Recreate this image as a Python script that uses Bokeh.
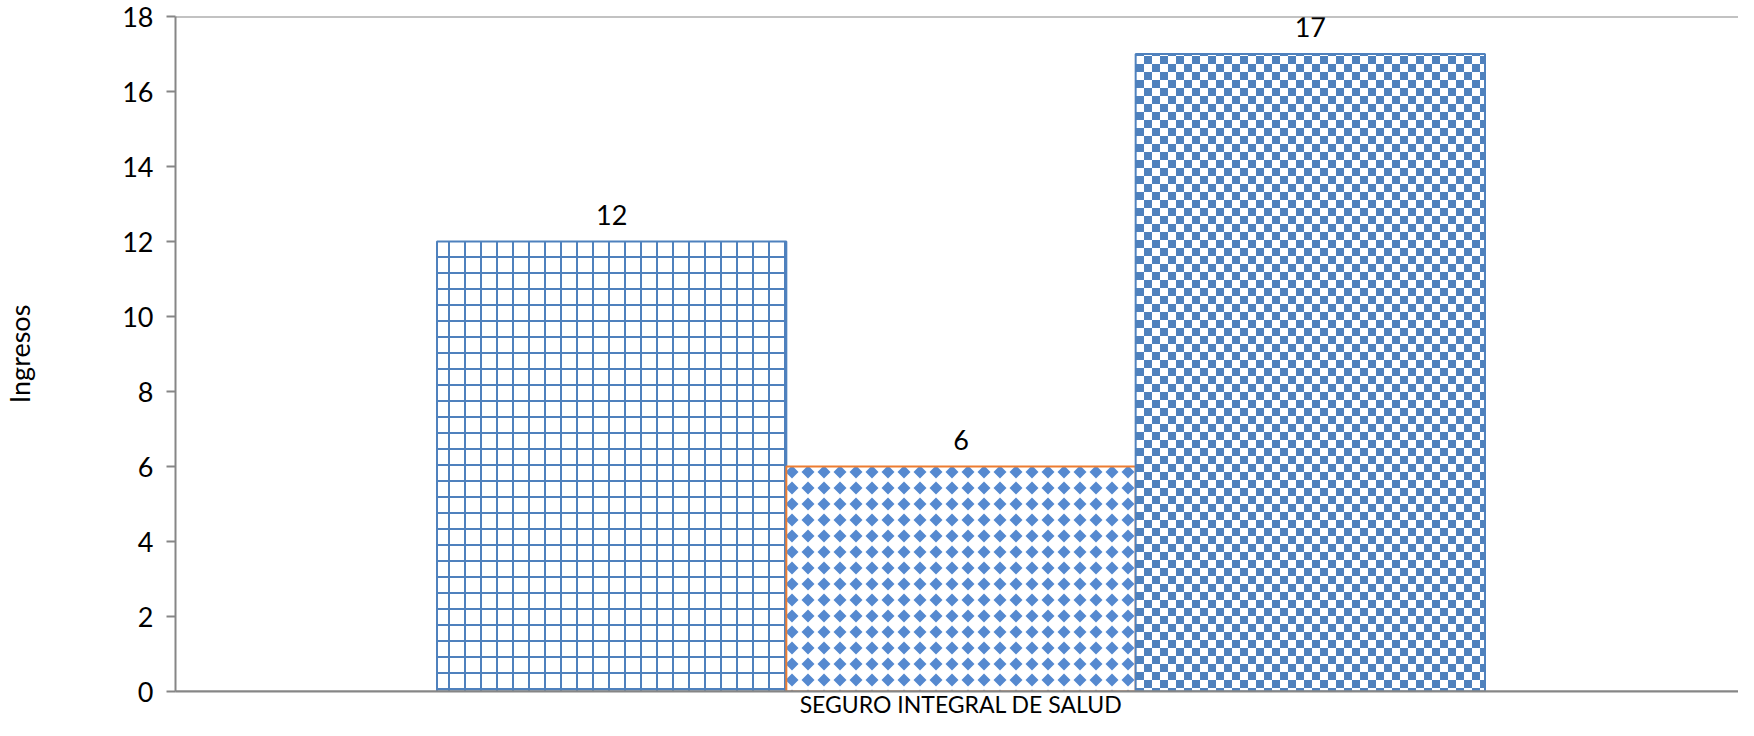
from bokeh.plotting import figure
from bokeh.models import (ColumnDataSource, Range1d, FixedTicker, Span, LabelSet,
                          CanvasTexture, LinearAxis)
from bokeh.core.properties import value
from bokeh.embed import file_html
from bokeh.resources import INLINE

# ---- data ----
categories = ["SEGURO INTEGRAL DE SALUD"]
serie_1 = [12]
serie_2 = [6]
serie_3 = [17]
y_ticks = [0, 2, 4, 6, 8, 10, 12, 14, 16, 18]
y_axis_title = "Ingresos"

# ---- styles ----
BLUE = "#4F81BD"
ORANGE = "#ED7D31"
AXIS = "#868686"
FONT = "Lato"
FS = "27px"

# textures (canvas reset to a 16x16 tile, which also clears any transform)
grid_tex = """
const c = ctx.canvas; c.width = 16; c.height = 16;
ctx.fillStyle = '#4F81BD';
ctx.fillRect(0, 0, 16, 2);
ctx.fillRect(0, 0, 2, 16);
"""
diamond_tex = """
const c = ctx.canvas; c.width = 16; c.height = 16;
ctx.fillStyle = '#5589D0';
ctx.beginPath();
ctx.moveTo(8, 1.5); ctx.lineTo(14.5, 8); ctx.lineTo(8, 14.5); ctx.lineTo(1.5, 8);
ctx.closePath(); ctx.fill();
ctx.fillRect(5, 5, 6, 6);
"""
checker_tex = """
const c = ctx.canvas; c.width = 16; c.height = 16;
ctx.fillStyle = '#4F81BD';
ctx.fillRect(0, 0, 8, 8);
ctx.fillRect(8, 8, 8, 8);
"""

frame_px = 1574.0          # full width of the reference plot area
visible_px = 1566.0        # part of it that fits in the window
bar_w = 350.0 / frame_px   # width of one bar in category units

p = figure(width=1738, height=720,
           x_range=Range1d(0, visible_px / frame_px), y_range=Range1d(0, 18),
           x_axis_location=None,
           output_backend="svg", toolbar_location=None,
           min_border_left=172, min_border_right=0, min_border_top=16, min_border_bottom=0)
p.outline_line_color = None
p.background_fill_color = "white"
p.border_fill_color = "white"
p.xgrid.visible = False
p.ygrid.visible = False

ax = p.yaxis[0]
ax.ticker = FixedTicker(ticks=y_ticks)
ax.axis_line_color = AXIS
ax.axis_line_width = 2
ax.major_tick_line_color = AXIS
ax.major_tick_line_width = 2
ax.major_tick_out = 9
ax.major_tick_in = 0
ax.minor_tick_line_color = None
ax.major_label_standoff = 13
ax.major_label_text_font = FONT
ax.major_label_text_font_size = FS
ax.major_label_text_color = "black"
ax.axis_label = y_axis_title
ax.axis_label_text_font = FONT
ax.axis_label_text_font_size = FS
ax.axis_label_text_font_style = "normal"
ax.axis_label_text_color = "black"
ax.axis_label_standoff = 83

# category axis at the bottom
cat_pos = [i + 0.5 for i in range(len(categories))]
xax = LinearAxis(ticker=FixedTicker(ticks=cat_pos),
                 major_label_overrides={pos: c for pos, c in zip(cat_pos, categories)})
xax.axis_line_color = AXIS
xax.axis_line_width = 2
xax.major_tick_line_color = None
xax.major_tick_out = 0
xax.major_tick_in = 0
xax.minor_tick_line_color = None
xax.major_label_standoff = -2
xax.major_label_text_font = FONT
xax.major_label_text_font_size = "23px"
xax.major_label_text_color = "black"
p.add_layout(xax, "below")

series = [serie_1, serie_2, serie_3]
textures = [grid_tex, diamond_tex, checker_tex]
line_colors = [BLUE, ORANGE, BLUE]

for k, (vals, tex, lc) in enumerate(zip(series, textures, line_colors)):
    xs = [i + 0.5 + (k - 1) * bar_w for i in range(len(categories))]
    src = ColumnDataSource(dict(x=xs, top=vals, label=[str(v) for v in vals]))
    key = "tex%d" % k
    p.vbar(x="x", top="top", bottom=0, width=bar_w, source=src,
           fill_color="white", line_color=lc, line_width=2,
           hatch_pattern=value(key), hatch_extra={key: CanvasTexture(code=tex)},
           hatch_scale=16, hatch_color=BLUE)
    p.add_layout(LabelSet(x="x", y="top", text="label", source=src, y_offset=27,
                          text_align="center", text_baseline="middle",
                          text_font=value(FONT), text_font_size=FS, text_color="black"))

# axis line over the bars' bottom edge and plot-area border along the top
p.add_layout(Span(location=0, dimension="width", line_color=AXIS, line_width=2))
p.add_layout(Span(location=18, dimension="width", line_color=AXIS, line_width=2))

open("out.html", "w").write(file_html(p, INLINE))
